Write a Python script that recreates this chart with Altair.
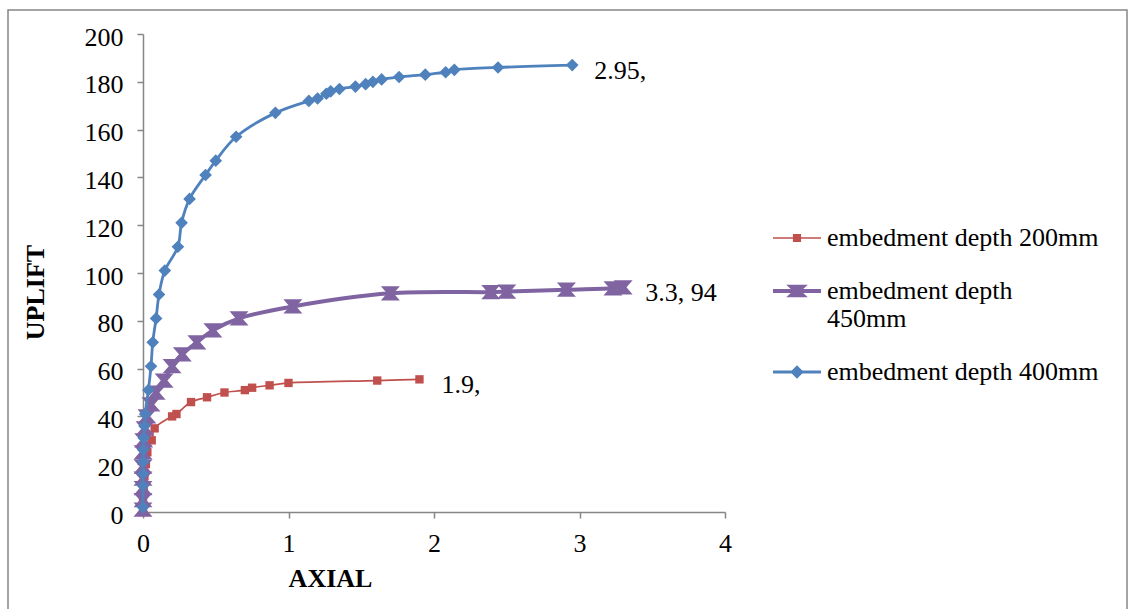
import altair as alt
import pandas as pd

# ---- data ----
series_names = ["embedment depth 200mm", "embedment depth 450mm", "embedment depth 400mm"]
series_colors = ["#C0504D", "#8064A2", "#4F81BD"]

x_200 = [0, 0, 0.005, 0.01, 0.02, 0.03, 0.06, 0.08, 0.20, 0.23, 0.33, 0.44, 0.56, 0.70, 0.75, 0.87, 1.0, 1.61, 1.90]
y_200 = [0, 5, 10, 15, 20, 25, 30, 35, 40, 41, 46, 48, 50, 51, 52, 53, 54, 55, 55.5]

x_450 = [0, 0, 0, 0, 0, 0, 0.005, 0.014, 0.027, 0.055, 0.09, 0.145, 0.20, 0.27, 0.37, 0.48, 0.66, 1.03, 1.70, 2.39, 2.50, 2.91, 3.23, 3.30]
y_450 = [1, 5, 10, 14, 19, 25, 30, 35, 40, 45, 50, 55, 61, 66, 71, 76, 81, 86, 91.5, 92, 92.2, 93, 93.6, 94]

x_400 = [0, 0, 0, 0, 0.002, 0.005, 0.01, 0.015, 0.037, 0.055, 0.067, 0.09, 0.11, 0.15, 0.24, 0.265, 0.32, 0.43,
         0.50, 0.64, 0.91, 1.14, 1.20, 1.26, 1.29, 1.35, 1.46, 1.53, 1.58, 1.64, 1.76, 1.94, 2.08, 2.14, 2.44, 2.95]
y_400 = [2, 11, 16, 21, 26, 31, 36, 41, 51, 61, 71, 81, 91, 101, 111, 121, 131, 141,
         147, 157, 167, 172, 173, 175, 176, 177, 178, 179, 180, 181, 182, 183, 184, 185, 186, 187]

end_labels = ["1.9,", "3.3, 94", "2.95,"]

x_ticks = [0, 1, 2, 3, 4]
y_ticks = [0, 20, 40, 60, 80, 100, 120, 140, 160, 180, 200]

# ---- build tables ----
xs = [x_200, x_450, x_400]
ys = [y_200, y_450, y_400]
rows = []
for name, xv, yv in zip(series_names, xs, ys):
    for i, (a, b) in enumerate(zip(xv, yv)):
        rows.append({"series": name, "axial": a, "uplift": b, "order": i})
df = pd.DataFrame(rows)

lab_rows = [{"series": n, "axial": xv[-1], "uplift": yv[-1], "label": t}
            for n, xv, yv, t in zip(series_names, xs, ys, end_labels)]
lab_df = pd.DataFrame(lab_rows)

FONT = "Liberation Serif"
GRAY = "#868686"

xscale = alt.Scale(domain=[0, 4], nice=False, zero=False)
yscale = alt.Scale(domain=[0, 200], nice=False)

axis_common = dict(grid=False, format="d", labelFont=FONT, labelFontSize=26, labelColor="black",
                   labelFlush=False, labelOverlap=False,
                   titleFont=FONT, titleFontSize=26, titleFontWeight="bold", titleColor="black",
                   domainColor=GRAY, tickColor=GRAY, tickSize=6, domainWidth=1.5, tickWidth=1.5,
                   titleBaseline="middle", titleAlign="center")
xenc = alt.X("axial:Q", scale=xscale,
             axis=alt.Axis(values=x_ticks, title="AXIAL", titleX=187, titleY=66, labelPadding=12, **axis_common))
yenc = alt.Y("uplift:Q", scale=yscale,
             axis=alt.Axis(values=y_ticks, title="UPLIFT", titleX=-108, titleY=258, labelPadding=14,
                           labelOffset=3, **axis_common))

base = alt.Chart(df)

line_widths = [1.7, 4, 2.8]
hourglass = "M-1,-0.75L1,-0.75L0.35,0L1,0.75L-1,0.75L-0.35,0Z"
marker_shapes = ["square", hourglass, "diamond"]
marker_sizes = [70, 361, 160]

layers = []
for name, col, lw, shp, sz in zip(series_names, series_colors, line_widths, marker_shapes, marker_sizes):
    sub = base.transform_filter(alt.datum.series == name)
    layers.append(sub.mark_line(color=col, strokeWidth=lw, interpolate="catmull-rom").encode(
        x=xenc, y=yenc, order="order:Q"))
    layers.append(sub.mark_point(color=col, shape=shp, size=sz, filled=True, opacity=1, strokeWidth=0).encode(
        x=xenc, y=yenc))

labels = alt.Chart(lab_df).mark_text(align="left", baseline="middle", dx=22, dy=6,
                                     font=FONT, fontSize=26, color="black").encode(
    x=alt.X("axial:Q", scale=xscale), y=alt.Y("uplift:Q", scale=yscale), text="label:N")
layers.append(labels)

# legend symbols: line segment plus marker
leg_red = "M-1,-0.036L1,-0.036L1,0.036L-1,0.036Z M-0.17,-0.17L0.17,-0.17L0.17,0.17L-0.17,0.17Z"
leg_purple = "M-1,-0.085L1,-0.085L1,0.085L-1,0.085Z M-0.45,-0.26L0.45,-0.26L0.17,0L0.45,0.26L-0.45,0.26L-0.17,0Z"
leg_blue = "M-1,-0.06L1,-0.06L1,0.06L-1,0.06Z M0,-0.28L0.28,0L0,0.28L-0.28,0Z"

leg_props = dict(title=None, orient="none", legendX=630, legendY=180,
                 symbolSize=2304, symbolStrokeWidth=0, symbolOpacity=1,
                 labelFont=FONT, labelFontSize=26, labelColor="black",
                 labelLimit=0, labelOffset=6, rowPadding=16,
                 labelExpr="datum.label == 'embedment depth 450mm' ? ['embedment depth', '450mm'] : datum.label")

carrier = base.mark_point(filled=True, size=0, strokeWidth=0).encode(
    x=xenc, y=yenc,
    color=alt.Color("series:N", scale=alt.Scale(domain=series_names, range=series_colors),
                    legend=alt.Legend(**leg_props)),
    shape=alt.Shape("series:N", scale=alt.Scale(domain=series_names, range=[leg_red, leg_purple, leg_blue]),
                    legend=alt.Legend(**leg_props)),
)
layers.append(carrier)

border = alt.Chart(pd.DataFrame({"k": [0]})).mark_rect(fillOpacity=0, stroke=GRAY, strokeWidth=1.5).encode(
    x=alt.value(-135), x2=alt.value(984), y=alt.value(-24), y2=alt.value(600))
layers.insert(0, border)

chart = alt.layer(*layers).properties(
    width=582, height=478,
    autosize=alt.AutoSizeParams(type="none"),
    padding={"left": 143, "top": 34, "right": 408, "bottom": 97},
    background="white",
).configure_view(stroke=None)

chart.save("out.html", embed_options={"renderer": "svg", "actions": False})
